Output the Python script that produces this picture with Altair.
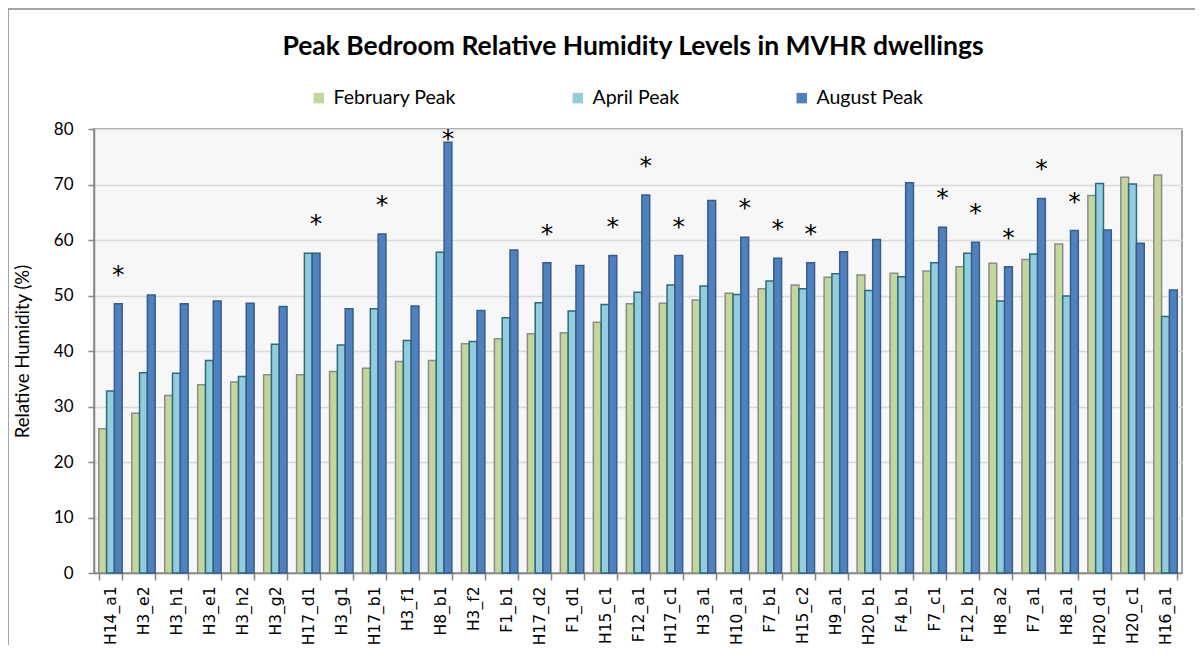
import altair as alt
import pandas as pd

categories = ["H14_a1", "H3_e2", "H3_h1", "H3_e1", "H3_h2", "H3_g2", "H17_d1", "H3_g1",
              "H17_b1", "H3_f1", "H8_b1", "H3_f2", "F1_b1", "H17_d2", "F1_d1", "H15_c1",
              "F12_a1", "H17_c1", "H3_a1", "H10_a1", "F7_b1", "H15_c2", "H9_a1", "H20_b1",
              "F4_b1", "F7_c1", "F12_b1", "H8_a2", "F7_a1", "H8_a1", "H20_d1", "H20_c1", "H16_a1"]
feb_peak = [26.0, 28.8, 32.0, 33.9, 34.4, 35.7, 35.7, 36.3, 36.9, 38.1, 38.3, 41.3, 42.2, 43.1,
            43.3, 45.2, 48.5, 48.6, 49.2, 50.4, 51.2, 51.9, 53.3, 53.7, 54.0, 54.4, 55.2, 55.8,
            56.5, 59.3, 68.0, 71.3, 71.7]
apr_peak = [32.8, 36.1, 36.0, 38.3, 35.4, 41.2, 57.6, 41.1, 47.6, 41.9, 57.8, 41.7, 46.0, 48.7,
            47.2, 48.4, 50.6, 51.9, 51.7, 50.2, 52.6, 51.2, 53.9, 50.9, 53.4, 55.9, 57.6, 49.0,
            57.5, 49.9, 70.2, 70.1, 46.2]
aug_peak = [48.5, 50.1, 48.5, 49.0, 48.6, 48.0, 57.6, 47.6, 61.1, 48.1, 77.6, 47.3, 58.2, 55.9,
            55.4, 57.2, 68.1, 57.2, 67.1, 60.5, 56.7, 55.9, 57.9, 60.1, 70.3, 62.3, 59.6, 55.2,
            67.5, 61.7, 61.8, 59.4, 51.0]
starred = ["H14_a1", "H17_d1", "H17_b1", "H8_b1", "H17_d2", "H15_c1", "F12_a1", "H17_c1",
           "H10_a1", "F7_b1", "H15_c2", "F7_c1", "F12_b1", "H8_a2", "F7_a1", "H8_a1"]
series = ["February Peak", "April Peak", "August Peak"]
fills = ["#c3d69b", "#93cddd", "#4f81bd"]
strokes = ["#8c8c8c", "#2c6a7c", "#385d8a"]

rows = []
for i, c in enumerate(categories):
    for s, vals in zip(series, [feb_peak, apr_peak, aug_peak]):
        rows.append({"site": c, "series": s, "value": vals[i]})
df = pd.DataFrame(rows)

star_rows = []
for i, c in enumerate(categories):
    if c in starred:
        star_rows.append({"site": c, "series": "August Peak", "pos": min(aug_peak[i] + 6.3, 79.3), "mark": "*"})
stars = pd.DataFrame(star_rows)

x_enc = alt.X("site:N", sort=categories, title=None,
              scale=alt.Scale(paddingInner=0.29, paddingOuter=0.145),
              axis=alt.Axis(labelAngle=270, labelFont="DejaVu Sans", labelFontSize=15.5,
                            labelColor="#000000", labelPadding=6, tickBand="extent",
                            tickSize=7, tickColor="#868686", tickWidth=1.5,
                            domainColor="#868686", domainWidth=1.5, grid=False))
xoff = alt.XOffset("series:N", sort=series, scale=alt.Scale(domain=series, paddingInner=0, paddingOuter=0))

bars = alt.Chart(df).mark_bar(strokeWidth=1.5).encode(
    x=x_enc,
    xOffset=xoff,
    y=alt.Y("value:Q", title="Relative Humidity (%)",
            scale=alt.Scale(domain=[0, 80], nice=False),
            axis=alt.Axis(values=list(range(0, 81, 10)), labelFont="Lato", labelFontSize=17,
                          labelColor="#000000", labelPadding=15, tickSize=6,
                          tickColor="#868686", tickWidth=1.5, domainColor="#868686",
                          domainWidth=1.5, gridColor="#d9d9d9", gridWidth=1.5,
                          titleFont="Lato", titleFontSize=18.5, titleFontWeight="normal",
                          titleColor="#000000", titlePadding=21)),
    color=alt.Color("series:N", sort=series, scale=alt.Scale(domain=series, range=fills),
                    legend=alt.Legend(title=None, orient="none", legendX=215, legendY=-41,
                                      direction="horizontal", columnPadding=112,
                                      symbolType="square", symbolSize=110,
                                      symbolStrokeWidth=1.5, labelFont="Lato",
                                      labelFontSize=19.5, labelColor="#000000",
                                      labelOffset=5, padding=0)),
    stroke=alt.Stroke("series:N", sort=series, scale=alt.Scale(domain=series, range=strokes),
                      legend=None),
)

star_layer = alt.Chart(stars).mark_text(font="DejaVu Sans", fontSize=25, color="#000000",
                                        baseline="middle", dy=6).encode(
    x=alt.X("site:N", sort=categories),
    xOffset=alt.XOffset("series:N", sort=series),
    y=alt.Y("pos:Q"),
    text="mark:N",
)

border = alt.Chart(pd.DataFrame({"k": [0]})).mark_rule(color="#868686", strokeWidth=1.5).encode(
    x=alt.value(-86), x2=alt.value(1110), y=alt.value(-120)
)
border_left = alt.Chart(pd.DataFrame({"k": [0]})).mark_rule(color="#868686", strokeWidth=1.5).encode(
    x=alt.value(-86), y=alt.value(-120), y2=alt.value(520)
)

chart = alt.layer(bars, star_layer, border, border_left).resolve_scale(
    stroke="independent"
).properties(
    width=1088, height=444,
    autosize=alt.AutoSizeParams(type="none"),
    padding={"left": 86, "top": 121, "right": 13, "bottom": 72},
    title=alt.Title("Peak Bedroom Relative Humidity Levels in MVHR dwellings", font="Lato",
                    fontSize=26.5, fontWeight="bold", color="#000000", anchor="middle",
                    frame="group", offset=-52, dx=-5),
    background="#ffffff",
).configure_view(fill="#f7f7f7", stroke="#868686", strokeWidth=1.5)

chart.save("out.html", embed_options={"renderer": "svg", "actions": False})
